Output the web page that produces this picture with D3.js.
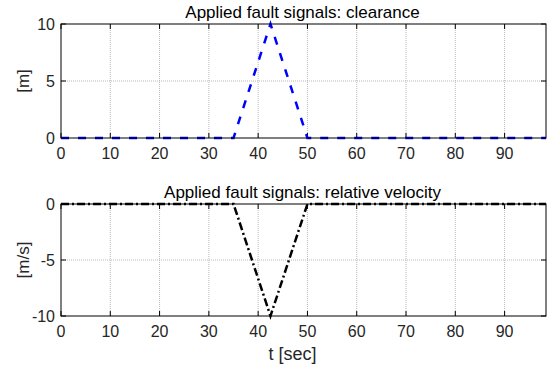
<!DOCTYPE html>
<html>
<head>
<meta charset="utf-8">
<script src="https://cdn.jsdelivr.net/npm/d3@7"></script>
<style>
  body { margin: 0; background: #fff; }
  svg { font-family: "Liberation Sans", Arial, sans-serif; }
</style>
</head>
<body>
<svg id="chart" width="547" height="367"></svg>
<script>
// signal breakpoints
const time = [0, 35, 42.5, 50, 98.4];
const clearance = [0, 0, 10, 0, 0];
const relVelocity = [0, 0, -10, 0, 0];
const xTicks = [0, 10, 20, 30, 40, 50, 60, 70, 80, 90];
const clearanceTicks = [0, 5, 10];
const velocityTicks = [-10, -5, 0];

const svg = d3.select("#chart");
const left = 61, right = 546;

const x = d3.scaleLinear().domain([0, 98.4]).range([left, right]);

const panels = [
    { title: "Applied fault signals: clearance", label: "[m]", top: 24, bottom: 138,
      domain: [0, 10], ticks: clearanceTicks, values: clearance,
      color: "#0000ff", dash: "8,9" },
    { title: "Applied fault signals: relative velocity", label: "[m/s]", top: 204, bottom: 316,
      domain: [-10, 0], ticks: velocityTicks, values: relVelocity,
      color: "#000", dash: "8,3,2,3" }
];

panels.forEach(p => {
    const y = d3.scaleLinear().domain(p.domain).range([p.bottom, p.top]);
    const g = svg.append("g");

    // grid
    g.append("g").selectAll("line").data(xTicks.slice(1)).join("line")
        .attr("x1", d => x(d)).attr("x2", d => x(d))
        .attr("y1", p.top).attr("y2", p.bottom)
        .attr("stroke", "#b8b8b8").attr("stroke-dasharray", "1,1");
    g.append("g").selectAll("line").data(p.ticks.slice(1, -1)).join("line")
        .attr("x1", left).attr("x2", right)
        .attr("y1", d => y(d)).attr("y2", d => y(d))
        .attr("stroke", "#b8b8b8").attr("stroke-dasharray", "1,1");

    // inward ticks on all four sides
    const tickLen = 5;
    g.append("g").selectAll("path").data(xTicks).join("path")
        .attr("d", d => `M${x(d)},${p.bottom}v${-tickLen}M${x(d)},${p.top}v${tickLen}`)
        .attr("stroke", "#000");
    g.append("g").selectAll("path").data(p.ticks).join("path")
        .attr("d", d => `M${left},${y(d)}h${tickLen}M${right},${y(d)}h${-tickLen}`)
        .attr("stroke", "#000");

    // data line
    const line = d3.line().x((d, i) => x(time[i])).y(d => y(d));
    g.append("path")
        .datum(p.values)
        .attr("d", line)
        .attr("fill", "none")
        .attr("stroke", p.color)
        .attr("stroke-width", 2.5)
        .attr("stroke-dasharray", p.dash);

    // box
    g.append("rect")
        .attr("x", left).attr("y", p.top)
        .attr("width", right - left).attr("height", p.bottom - p.top)
        .attr("fill", "none").attr("stroke", "#000").attr("stroke-width", 1);

    // tick labels
    g.append("g").selectAll("text").data(xTicks).join("text")
        .attr("x", d => x(d)).attr("y", p.bottom + 21)
        .attr("text-anchor", "middle")
        .attr("font-size", 16).attr("fill", "#262626")
        .text(d => d);
    g.append("g").selectAll("text").data(p.ticks).join("text")
        .attr("x", left - 6).attr("y", d => y(d) + 5.5)
        .attr("text-anchor", "end")
        .attr("font-size", 16).attr("fill", "#262626")
        .text(d => d);

    // title and y label
    g.append("text")
        .attr("x", (left + right) / 2 - 1).attr("y", p.top - 6)
        .attr("text-anchor", "middle")
        .attr("font-size", 17).attr("fill", "#000")
        .text(p.title);
    g.append("text")
        .attr("transform", `translate(29,${(p.top + p.bottom) / 2}) rotate(-90)`)
        .attr("text-anchor", "middle")
        .attr("font-size", 17).attr("fill", "#262626")
        .text(p.label);
});

svg.append("text")
    .attr("x", (left + right) / 2 - 11).attr("y", 360)
    .attr("text-anchor", "middle")
    .attr("font-size", 18).attr("fill", "#262626")
    .text("t [sec]");
</script>
</body>
</html>
